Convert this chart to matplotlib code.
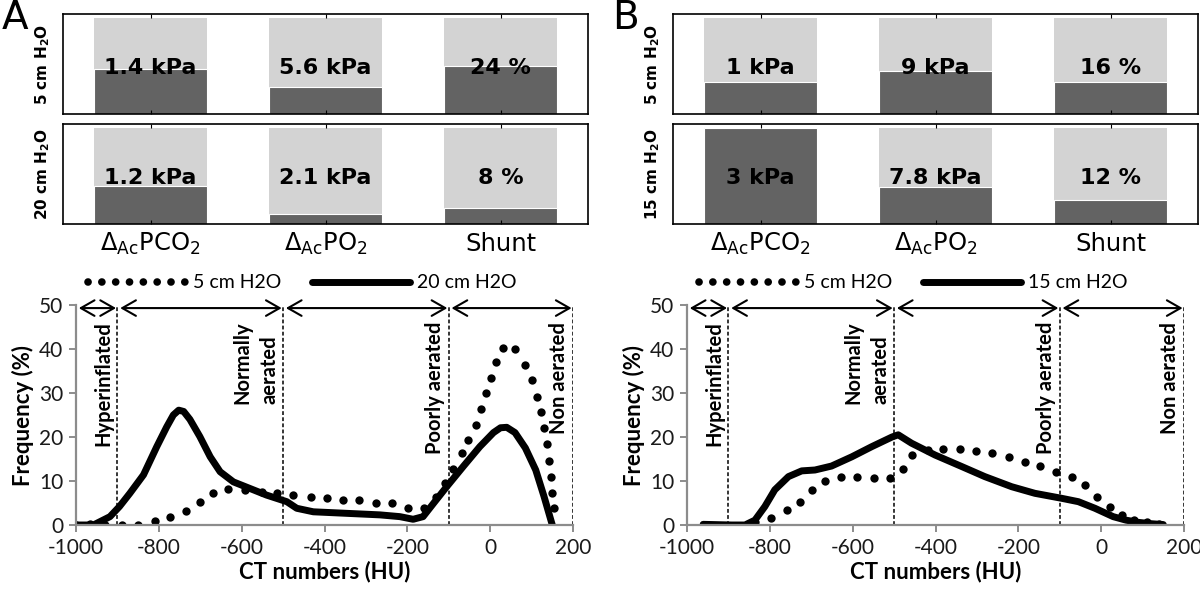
import matplotlib
matplotlib.use("Agg")
import matplotlib.pyplot as plt
import numpy as np
from matplotlib.lines import Line2D

plt.rcParams['mathtext.fontset'] = 'dejavusans'
plt.rcParams['axes.unicode_minus'] = False

# ---- top bar panels ----
categories = [r'$\Delta_{\mathrm{Ac}}$PCO$_2$', r'$\Delta_{\mathrm{Ac}}$PO$_2$', 'Shunt']
units = ['kPa', 'kPa', '%']
scale_max = [3, 20, 48]

A_rows = [r'5 cm H$_\mathbf{2}$O', r'20 cm H$_\mathbf{2}$O']
A_vals = [[1.4, 5.6, 24], [1.2, 2.1, 8]]
B_rows = [r'5 cm H$_\mathbf{2}$O', r'15 cm H$_\mathbf{2}$O']
B_vals = [[1, 9, 16], [3, 7.8, 12]]

# ---- CT histograms ----
A_legend = ['5 cm H2O', '20 cm H2O']
A_dot_x = [-1000, -966, -930, -890, -850, -809, -773, -734, -701, -669, -632, -592, -552, -515,
           -475, -433, -395, -355, -316, -276, -236, -198, -160, -131, -108, -89, -69, -53, -34,
           -22, -10, 1, 14, 32, 59, 84, 100, 112, 122, 130, 137, 142, 146, 150, 153]
A_dot_y = [0, 0.2, 0, 0, 0, 1.0, 1.75, 3.25, 5.3, 7.35, 8.1, 8.0, 7.6, 7.2,
           6.8, 6.3, 6.1, 5.7, 5.6, 5.1, 4.9, 3.8, 3.8, 6.4, 9.5, 12.7, 16.3, 19.3, 22.7,
           26.4, 29.9, 33.5, 37.1, 40.2, 40.0, 36.3, 33.0, 29.2, 25.6, 22.0, 18.3, 14.5, 11.0, 7.3, 3.8]
A_line_x = [-1000, -958, -918, -895, -870, -837, -805, -781, -765, -752, -740, -725, -701, -676,
            -652, -620, -580, -540, -491, -467, -427, -346, -266, -218, -186, -162, -137, -105,
            -65, -25, 8, 25, 40, 60, 85, 110, 130, 150]
A_line_y = [0, 0, 1.9, 4.2, 7.2, 11.4, 17.8, 22.3, 25.0, 26.1, 25.8, 24.0, 20.1, 15.5,
            12.1, 9.8, 8.3, 6.8, 5.3, 3.8, 3.0, 2.65, 2.3, 1.9, 1.3, 1.9, 4.9, 8.7,
            13.3, 17.8, 21.0, 22.1, 22.2, 21.0, 17.5, 12.5, 6.5, 0]

B_legend = ['5 cm H2O', '15 cm H2O']
B_dot_x = [-836, -796, -759, -727, -699, -667, -628, -589, -549, -510, -478, -456, -418, -381,
           -341, -302, -263, -223, -184, -148, -110, -71, -39, -9, 21, 50, 80, 110, 140]
B_dot_y = [0.75, 1.5, 3.4, 5.3, 8.0, 10.1, 11.0, 10.9, 10.6, 10.6, 12.7, 15.9, 17.0, 17.2,
           17.2, 16.8, 16.3, 15.5, 14.4, 13.3, 12.1, 11.0, 9.1, 6.4, 4.2, 2.2, 1.2, 0.6, 0.3]
B_line_x = [-961, -892, -860, -836, -812, -788, -755, -723, -691, -651, -602, -554, -505, -490,
            -458, -401, -337, -281, -216, -160, -95, -55, -15, 29, 60, 90, 120, 150]
B_line_y = [0.15, 0, 0, 1.1, 4.2, 8.0, 11.0, 12.3, 12.5, 13.4, 15.5, 17.8, 20.0, 20.5,
            18.6, 15.9, 13.3, 11.0, 8.7, 7.2, 6.06, 5.3, 3.8, 1.9, 1.1, 0.6, 0.3, 0.1]

zone_edges = [-1000, -900, -500, -100, 200]
zone_names = ['Hyperinflated', 'Normally\naerated', 'Poorly aerated', 'Non aerated']

W, H = 1200, 595
fig = plt.figure(figsize=(12, 5.95), dpi=100)

LIGHT = '#d3d3d3'
DARK = '#636363'
SANS = ['Lato', 'DejaVu Sans']


def fx(px):
    return px / W


def fy(py):
    return 1 - py / H


def bar_panel(left, letter, rows, vals):
    fig.text(fx(left - 61), fy(18), letter, fontsize=28, ha='left', va='center')
    xs = np.arange(len(categories))
    for r, (row_label, row_vals) in enumerate(zip(rows, vals)):
        top = 14 + r * 110
        ax = fig.add_axes([fx(left), fy(top + 100), fx(525), 100 / H])
        frac = [v / m for v, m in zip(row_vals, scale_max)]
        ax.bar(xs, [1] * len(xs), width=0.65, color=LIGHT, edgecolor='none')
        ax.bar(xs, frac, width=0.65, color=DARK, edgecolor='white', linewidth=0.8)
        for x, v, u in zip(xs, row_vals, units):
            ax.text(x, 0.46, f'{v:g} {u}', transform=ax.get_xaxis_transform(),
                    ha='center', va='center', fontsize=16, fontweight='bold',
                    family='DejaVu Sans')
        ax.set_xlim(-0.5, 2.5)
        ax.set_ylim(0, 1 / 0.96)
        ax.set_yticks([])
        ax.set_xticks(xs)
        ax.tick_params(axis='x', direction='in', top=True, bottom=True, length=3,
                       width=0.8, labelbottom=False)
        for s in ax.spines.values():
            s.set_linewidth(1.2)
        fig.text(fx(left - 20), fy(top + 50), row_label, rotation=90, ha='center',
                 va='center', fontsize=11, fontweight='bold')
        if r == len(rows) - 1:
            for x, c in zip(xs, categories):
                ax.text(x, -0.2, c, transform=ax.get_xaxis_transform(), ha='center',
                        va='center', fontsize=17.5)


def ct_panel(left, legend_labels, dot_x, dot_y, line_x, line_y):
    ax = fig.add_axes([fx(left), fy(525), fx(497), 220 / H])
    ax.plot(dot_x, dot_y, linestyle='none', marker='o', markersize=6, color='black',
            markeredgewidth=0)
    ax.plot(line_x, line_y, color='black', lw=5, solid_capstyle='round',
            solid_joinstyle='round')
    for e in zone_edges[1:]:
        ax.axvline(e, color='black', lw=1.1, linestyle=(0, (2.5, 1.5)))
    for a, b in zip(zone_edges[:-1], zone_edges[1:]):
        ax.annotate('', xy=(b, 49.3), xytext=(a, 49.3),
                    arrowprops=dict(arrowstyle='<->,head_length=0.7,head_width=0.4',
                                    lw=1.5, color='black', shrinkA=2, shrinkB=1,
                                    mutation_scale=14))
    for e, name in zip(zone_edges[1:], zone_names):
        ax.text(e - 9, 46.2, name, rotation=90, ha='right', va='top', fontsize=14.5,
                fontweight='bold', family=SANS, multialignment='left', linespacing=1.45)
    ax.set_xlim(-1000, 200)
    ax.set_ylim(0, 50)
    ax.set_xticks(np.arange(-1000, 201, 200))
    ax.set_yticks(np.arange(0, 51, 10))
    for s in ['top', 'right']:
        ax.spines[s].set_visible(False)
    for s in ['left', 'bottom']:
        ax.spines[s].set_color('#8c8c8c')
        ax.spines[s].set_linewidth(1.6)
    ax.tick_params(length=5, width=1.4, color='#8c8c8c', labelsize=15, pad=4)
    for lab in ax.get_xticklabels() + ax.get_yticklabels():
        lab.set_family(SANS)
        lab.set_color('#1a1a1a')
    ax.set_xlabel('CT numbers (HU)', fontsize=16, fontweight='bold', family=SANS,
                  labelpad=2)
    ax.set_ylabel('Frequency (%)', fontsize=16, fontweight='bold', family=SANS,
                  labelpad=4)
    handles = [
        Line2D([], [], color='black', lw=5.5, linestyle=(0, (0.01, 1.8)),
               dash_capstyle='round'),
        Line2D([], [], color='black', lw=5, solid_capstyle='round'),
    ]
    fig.legend(handles, legend_labels, loc='center left',
               bbox_to_anchor=(fx(left + 12), fy(283)), ncol=2, frameon=False,
               handlelength=5.0, handletextpad=0.4, columnspacing=1.6,
               borderpad=0, borderaxespad=0, prop={'family': SANS, 'size': 14})
    return ax


bar_panel(63, 'A', A_rows, A_vals)
bar_panel(673, 'B', B_rows, B_vals)
ct_panel(76, A_legend, A_dot_x, A_dot_y, A_line_x, A_line_y)
ct_panel(687, B_legend, B_dot_x, B_dot_y, B_line_x, B_line_y)

fig.savefig('out.png', dpi=100)
